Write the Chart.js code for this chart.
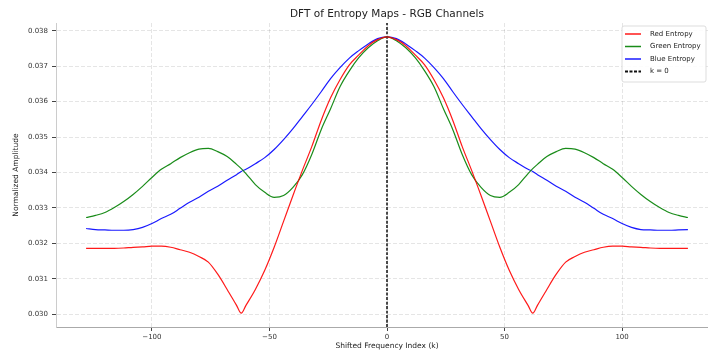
<!DOCTYPE html>
<html>
<head>
<meta charset="utf-8">
<script src="https://cdn.jsdelivr.net/npm/chart.js@4.4.1/dist/chart.umd.min.js"></script>
<style>
  html, body { margin: 0; padding: 0; background: #fff; }
  #wrap { width: 708px; height: 356px; overflow: hidden; }
  canvas { display: block; }
</style>
</head>
<body>
<div id="wrap"><canvas id="dft" width="720" height="356"></canvas></div>
<script>
// shifted frequency index (denser around the red notch at +/-62)
const kIndex = [
  -128, -124, -120, -116, -112, -108, -104, -100, -96, -92, -88, -84, -80, -76, -72, -68, -64,
  -62, -60, -56, -52, -48, -44, -40, -36, -32, -28, -24, -20, -16, -12, -8, -4,
  0,
  4, 8, 12, 16, 20, 24, 28, 32, 36, 40, 44, 48, 52, 56, 60, 62,
  64, 68, 72, 76, 80, 84, 88, 92, 96, 100, 104, 108, 112, 116, 120, 124, 128
];

const redEntropy = [
  0.03186, 0.03186, 0.03186, 0.03186, 0.03187, 0.03189, 0.03190, 0.03192, 0.03192, 0.03189, 0.03182, 0.03175, 0.03163, 0.03147, 0.03113, 0.03070, 0.03025,
  0.03003, 0.03025, 0.03070, 0.03124, 0.03189, 0.03262, 0.03335, 0.03406, 0.03473, 0.03547, 0.03611, 0.03662, 0.03704, 0.03732, 0.03758, 0.03775,
  0.03783,
  0.03775, 0.03758, 0.03732, 0.03704, 0.03662, 0.03611, 0.03547, 0.03473, 0.03406, 0.03335, 0.03262, 0.03189, 0.03124, 0.03070, 0.03025, 0.03003,
  0.03025, 0.03070, 0.03113, 0.03147, 0.03163, 0.03175, 0.03182, 0.03189, 0.03192, 0.03192, 0.03190, 0.03189, 0.03187, 0.03186, 0.03186, 0.03186, 0.03186
];

const greenEntropy = [
  0.03273, 0.03279, 0.03287, 0.03301, 0.03318, 0.03338, 0.03361, 0.03386, 0.03409, 0.03425, 0.03442, 0.03456, 0.03466, 0.03468, 0.03459, 0.03445, 0.03423,
  0.03411, 0.03397, 0.03366, 0.03344, 0.03330, 0.03335, 0.03358, 0.03394, 0.03451, 0.03521, 0.03580, 0.03642, 0.03687, 0.03724, 0.03752, 0.03772,
  0.03783,
  0.03772, 0.03752, 0.03724, 0.03687, 0.03642, 0.03580, 0.03521, 0.03451, 0.03394, 0.03358, 0.03335, 0.03330, 0.03344, 0.03366, 0.03397, 0.03411,
  0.03423, 0.03445, 0.03459, 0.03468, 0.03466, 0.03456, 0.03442, 0.03425, 0.03409, 0.03386, 0.03361, 0.03338, 0.03318, 0.03301, 0.03287, 0.03279, 0.03273
];

const blueEntropy = [
  0.03242, 0.03239, 0.03238, 0.03237, 0.03237, 0.03239, 0.03245, 0.03256, 0.03270, 0.03282, 0.03299, 0.03316, 0.03330, 0.03347, 0.03361, 0.03378, 0.03394,
  0.03403, 0.03409, 0.03425, 0.03442, 0.03465, 0.03493, 0.03524, 0.03558, 0.03592, 0.03628, 0.03665, 0.03696, 0.03723, 0.03744, 0.03763, 0.03778,
  0.03783,
  0.03778, 0.03763, 0.03744, 0.03723, 0.03696, 0.03665, 0.03628, 0.03592, 0.03558, 0.03524, 0.03493, 0.03465, 0.03442, 0.03425, 0.03409, 0.03403,
  0.03394, 0.03378, 0.03361, 0.03347, 0.03330, 0.03316, 0.03299, 0.03282, 0.03270, 0.03256, 0.03245, 0.03239, 0.03238, 0.03237, 0.03237, 0.03238, 0.03239, 0.03242
];

const seriesNames = ['Red Entropy', 'Green Entropy', 'Blue Entropy', 'k = 0'];
const xTicks = [-100, -50, 0, 50, 100];
const yTicks = [0.030, 0.031, 0.032, 0.033, 0.034, 0.035, 0.036, 0.037, 0.038];
const xRange = [-140.8, 140.8];
const yRange = [0.02964, 0.03822];

const FONT = "'DejaVu Sans', sans-serif";
const pts = ys => kIndex.map((k, i) => ({ x: k, y: ys[i] }));

// title and in-axes legend, drawn over the plot
const overlay = {
  id: 'overlay',
  afterDraw(chart) {
    const { ctx, chartArea: a } = chart;
    ctx.save();
    ctx.fillStyle = '#222';
    ctx.font = `10.5px ${FONT}`;
    ctx.textAlign = 'center';
    ctx.textBaseline = 'middle';
    ctx.fillText('DFT of Entropy Maps - RGB Channels', (a.left + a.right) / 2, 14);

    const w = 84, h = 56;
    const x0 = a.right - 12 - w, y0 = a.top + 3;
    ctx.beginPath();
    ctx.roundRect(x0, y0, w, h, 2);
    ctx.fillStyle = 'rgba(255,255,255,0.85)';
    ctx.fill();
    ctx.strokeStyle = '#d4d4d4';
    ctx.lineWidth = 0.8;
    ctx.stroke();

    ctx.font = `7px ${FONT}`;
    ctx.textAlign = 'left';
    chart.data.datasets.forEach((ds, i) => {
      const y = y0 + 8 + i * 12.5;
      ctx.beginPath();
      ctx.setLineDash(ds.borderDash || []);
      ctx.strokeStyle = ds.borderColor;
      ctx.lineWidth = ds.borderWidth + 0.3;
      ctx.moveTo(x0 + 3, y);
      ctx.lineTo(x0 + 19, y);
      ctx.stroke();
      ctx.setLineDash([]);
      ctx.fillStyle = '#222';
      ctx.fillText(ds.label, x0 + 28, y);
    });
    ctx.restore();
  }
};

const lineStyle = { pointRadius: 0, borderWidth: 1.2, cubicInterpolationMode: 'monotone', fill: false };

new Chart(document.getElementById('dft'), {
  type: 'line',
  data: {
    datasets: [
      { ...lineStyle, label: seriesNames[0], data: pts(redEntropy), borderColor: 'rgba(255,0,0,0.9)' },
      { ...lineStyle, label: seriesNames[1], data: pts(greenEntropy), borderColor: 'rgba(0,128,0,0.9)' },
      { ...lineStyle, label: seriesNames[2], data: pts(blueEntropy), borderColor: 'rgba(0,0,255,0.9)' },
      { ...lineStyle, label: seriesNames[3], borderColor: '#111', borderWidth: 1.5, borderDash: [3, 1.5],
        data: [{ x: 0, y: yRange[0] }, { x: 0, y: yRange[1] }] }
    ]
  },
  options: {
    responsive: false,
    animation: false,
    devicePixelRatio: 1,
    layout: { padding: { top: 23, right: 2, left: 0, bottom: 0 } },
    plugins: { legend: { display: false }, title: { display: false }, tooltip: { enabled: false } },
    scales: {
      x: {
        type: 'linear',
        min: xRange[0],
        max: xRange[1],
        afterBuildTicks: s => { s.ticks = xTicks.map(v => ({ value: v })); },
        afterFit: s => { s.height = 29; },
        ticks: {
          font: { size: 7, family: FONT }, color: '#333', padding: 2, maxRotation: 0,
          callback: v => (v < 0 ? '\u2212' + Math.abs(v) : String(v))
        },
        grid: { color: 'rgba(0,0,0,0.13)', lineWidth: 0.8, tickLength: 4, tickColor: '#444', tickWidth: 1 },
        border: { display: true, color: '#aaa', width: 1, dash: [4, 2] },
        title: {
          display: true, text: 'Shifted Frequency Index (k)', color: '#222',
          font: { size: 7.5, family: FONT }, padding: { top: 0, bottom: 5.5 }
        }
      },
      y: {
        min: yRange[0],
        max: yRange[1],
        afterBuildTicks: s => { s.ticks = yTicks.map(v => ({ value: v })); },
        afterFit: s => { s.width = 56; },
        ticks: {
          font: { size: 7, family: FONT }, color: '#333', padding: 4,
          callback: v => v.toFixed(3)
        },
        grid: { color: 'rgba(0,0,0,0.13)', lineWidth: 0.8, tickLength: 4, tickColor: '#444', tickWidth: 1 },
        border: { display: true, color: '#ccc', width: 1, dash: [4, 2] },
        title: {
          display: true, text: 'Normalized Amplitude', color: '#222',
          font: { size: 7.5, family: FONT }, padding: { top: 11.5, bottom: 0 }
        }
      }
    }
  },
  plugins: [overlay]
});
</script>
</body>
</html>
